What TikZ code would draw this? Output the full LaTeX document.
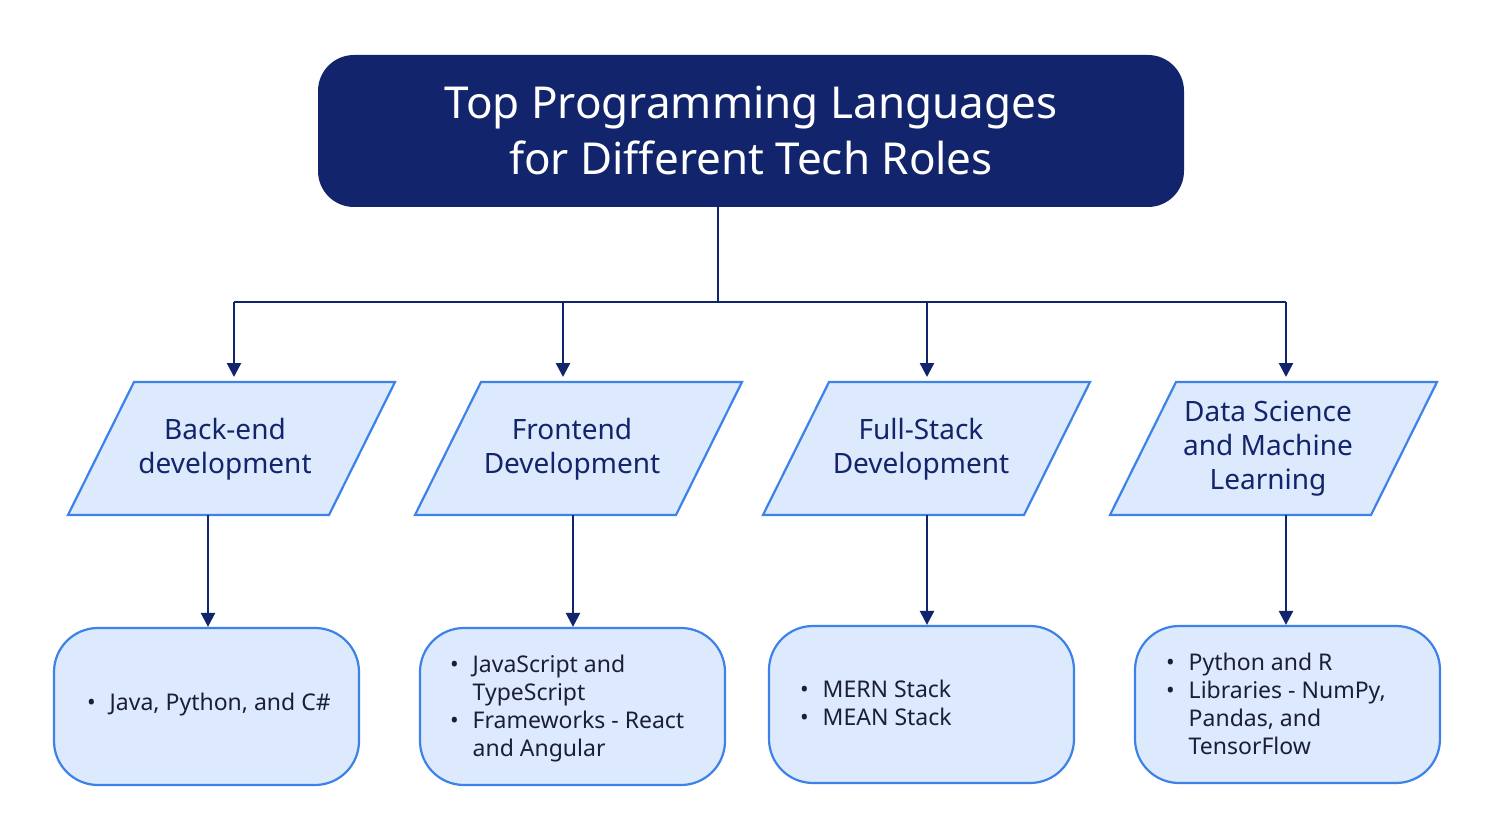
\documentclass[tikz,border=0pt]{standalone}
\usepackage{fontspec}
\setmainfont{Noto Sans}
\usetikzlibrary{arrows.meta}
\definecolor{navy}{HTML}{12246B}
\definecolor{lfill}{HTML}{DDE9FC}
\definecolor{lborder}{HTML}{3C82E8}
\definecolor{txt}{HTML}{1A1F36}
\tikzset{
  conn/.style={draw=navy,line width=1.2pt,-{Triangle[length=7pt,width=7pt]}},
  para/.style={fill=lfill,draw=lborder,line width=1.1pt},
  ptext/.style={text=navy,font=\fontsize{14}{17}\selectfont\bfseries,align=center},
  rbox/.style={fill=lfill,draw=lborder,line width=1.1pt,rounded corners=22pt},
  btext/.style={text=txt,font=\fontsize{11.5}{14}\selectfont,align=left},
}
\newcommand{\bul}{\textbullet}
\begin{document}
\begin{tikzpicture}[x=0.5pt,y=-0.5pt]
\useasboundingbox (0,0) rectangle (1496,840);
\fill[white] (0,0) rectangle (1496,840);
\node[fill=navy,rounded corners=18pt,minimum width=433pt,minimum height=76pt,text=white,
  font=\fontsize{22}{28}\selectfont\bfseries,align=center] (title) at (751,131)
  {Top Programming Languages\\for Different Tech Roles};
\coordinate (hub) at (718,302);
\draw[navy,line width=1.2pt] (title.south -| hub) -- (hub);
\draw[navy,line width=1.2pt] (234,302) -- (1286,302);
% parallelograms
\foreach \x/\n in {68/p1,415/p2,763/p3,1110/p4}{
  \draw[para] (\x,515) -- (\x+66,382) -- (\x+327,382) -- (\x+261,515) -- cycle;
}
\node[ptext] (t1) at (225,449) {Back-end\\development};
\node[ptext] (t2) at (572,449) {Frontend\\Development};
\node[ptext] (t3) at (921,449) {Full-Stack\\Development};
\node[ptext] (t4) at (1268,449) {Data Science\\and Machine\\Learning};
\foreach \x in {234,563,927,1286}{
  \coordinate (a\x) at (\x,302);
  \coordinate (b\x) at (\x,377);
  \draw[conn] (a\x) -- (b\x);
}
% bottom boxes
\node[rbox,minimum width=152.5pt,minimum height=78.5pt] (r1) at (206.5,706.5) {};
\node[rbox,minimum width=152.5pt,minimum height=78.5pt] (r2) at (572.5,706.5) {};
\node[rbox,minimum width=152.5pt,minimum height=78.5pt] (r3) at (921.5,704.5) {};
\node[rbox,minimum width=152.5pt,minimum height=78.5pt] (r4) at (1287.5,704.5) {};
\foreach \x/\r in {208/r1,573/r2,927/r3,1286/r4}{
  \coordinate (s\r) at (\x,515);
  \draw[conn] (s\r) -- (\x,\x,0 |- \r.north) ;
}
\node[btext,anchor=west] at (80,705) {\begin{tabular}{@{}l@{\hspace{7pt}}l@{}}\bul&Java, Python, and C\#\end{tabular}};
\node[btext,anchor=west] at (443,709) {\begin{tabular}{@{}l@{\hspace{7pt}}l@{}}\bul&JavaScript and\\&TypeScript\\\bul&Frameworks - React\\&and Angular\end{tabular}};
\node[btext,anchor=west] at (793,706) {\begin{tabular}{@{}l@{\hspace{7pt}}l@{}}\bul&MERN Stack\\\bul&MEAN Stack\end{tabular}};
\node[btext,anchor=west] at (1159,707) {\begin{tabular}{@{}l@{\hspace{7pt}}l@{}}\bul&Python and R\\\bul&Libraries - NumPy,\\&Pandas, and\\&TensorFlow\end{tabular}};
\end{tikzpicture}
\end{document}
